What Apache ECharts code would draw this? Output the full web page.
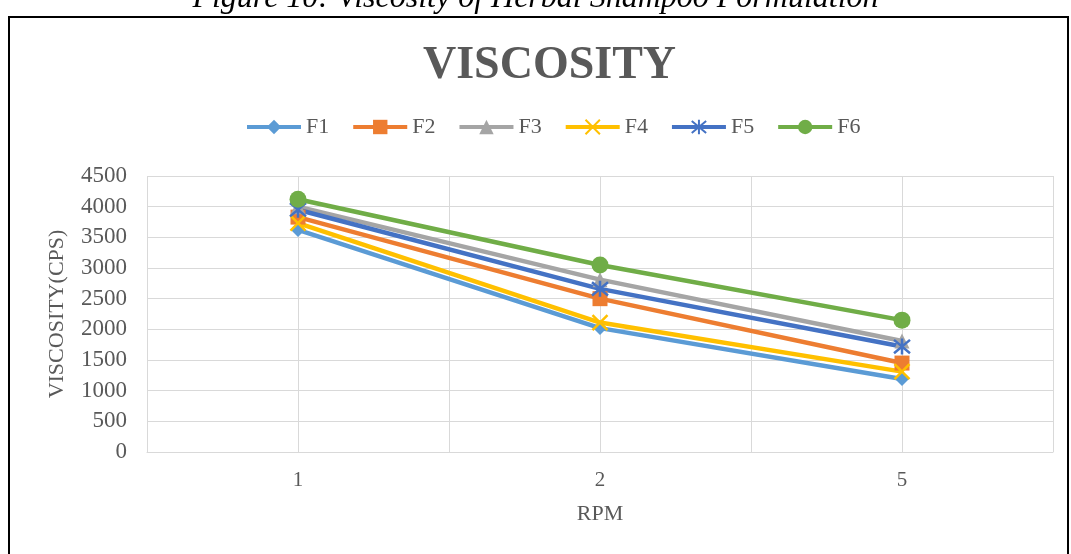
<!DOCTYPE html>
<html>
<head>
<meta charset="utf-8">
<script src="https://cdn.jsdelivr.net/npm/echarts@6/dist/echarts.min.js"></script>
<style>
  html, body { margin: 0; padding: 0; background: #fff; }
  #chart { width: 1071px; height: 554px; }
</style>
</head>
<body>
<div id="chart"></div>
<script>
// Shear rates and measured viscosity (cps) for each shampoo formulation
const rpm = ['1', '2', '5'];
const F1 = [3620, 2020, 1190];
const F2 = [3830, 2500, 1450];
const F3 = [4000, 2810, 1810];
const F4 = [3730, 2110, 1310];
const F5 = [3950, 2660, 1720];
const F6 = [4120, 3050, 2150];
const yTicks = [0, 500, 1000, 1500, 2000, 2500, 3000, 3500, 4000, 4500];

const serif = '"Liberation Serif", "Times New Roman", serif';
const textGray = '#595959';
const gridGray = '#d9d9d9';

const crossPath = 'path://M0,0 L10,10 M10,0 L0,10';
const starPath = 'path://M0,0 L10,10 M10,0 L0,10 M5,-1 L5,11';

const seriesDefs = [
  { name: 'F1', data: F1, color: '#5B9BD5', symbol: 'diamond', size: 14 },
  { name: 'F2', data: F2, color: '#ED7D31', symbol: 'rect', size: 15 },
  { name: 'F3', data: F3, color: '#A5A5A5', symbol: 'triangle', size: 15 },
  { name: 'F4', data: F4, color: '#FFC000', symbol: crossPath, size: 15, stroke: true },
  { name: 'F5', data: F5, color: '#4472C4', symbol: starPath, size: 16, stroke: true },
  { name: 'F6', data: F6, color: '#70AD47', symbol: 'circle', size: 17 }
];

const chart = echarts.init(document.getElementById('chart'), null, { renderer: 'canvas' });

chart.setOption({
  backgroundColor: '#ffffff',
  animation: false,
  title: {
    text: 'VISCOSITY',
    left: 418,
    top: 38,
    textStyle: { fontFamily: serif, fontSize: 46, fontWeight: 'bold', color: textGray }
  },
  legend: {
    top: 111,
    left: 240,
    itemWidth: 54,
    itemHeight: 18,
    itemGap: 22,
    lineStyle: { width: 4 },
    textStyle: { fontFamily: serif, fontSize: 22, color: textGray },
    data: seriesDefs.map(s => s.name)
  },
  graphic: [
    {
      type: 'text',
      left: 'center',
      top: -17,
      style: {
        text: 'Figure 10: Viscosity of Herbal Shampoo Formulation',
        font: 'italic 32px ' + serif,
        fill: '#000'
      }
    },
    {
      type: 'rect',
      shape: { x: 9, y: 17, width: 1059, height: 560 },
      style: { fill: 'none', stroke: '#000', lineWidth: 2 }
    }
  ],
  grid: { left: 147, right: 18, top: 176, bottom: 102 },
  xAxis: [
    {
      type: 'category',
      data: rpm,
      boundaryGap: true,
      name: 'RPM',
      nameLocation: 'middle',
      nameGap: 51,
      nameTextStyle: { fontFamily: serif, fontSize: 22, color: textGray },
      axisLine: { show: true, lineStyle: { color: gridGray, width: 1 } },
      axisTick: { show: false },
      axisLabel: { margin: 18, fontFamily: serif, fontSize: 21, color: textGray },
      splitLine: { show: false }
    },
    {
      // Helper axis: vertical gridlines at category centres and boundaries
      type: 'value',
      position: 'bottom',
      min: 0,
      max: 3,
      interval: 0.5,
      axisLine: { show: false },
      axisTick: { show: false },
      axisLabel: { show: false },
      splitLine: { show: true, lineStyle: { color: gridGray, width: 1 } }
    }
  ],
  yAxis: {
    type: 'value',
    min: yTicks[0],
    max: yTicks[yTicks.length - 1],
    interval: 500,
    name: 'VISCOSITY(CPS)',
    nameLocation: 'middle',
    nameGap: 79,
    nameTextStyle: { fontFamily: serif, fontSize: 22, color: textGray },
    axisLine: { show: false },
    axisTick: { show: false },
    axisLabel: {
      margin: 20,
      fontFamily: serif,
      fontSize: 23,
      color: textGray,
      formatter: v => String(v)
    },
    splitLine: { show: true, lineStyle: { color: gridGray, width: 1 } }
  },
  series: seriesDefs.map(s => ({
    name: s.name,
    type: 'line',
    xAxisIndex: 0,
    data: s.data,
    symbol: s.symbol,
    symbolSize: s.size,
    showAllSymbol: true,
    lineStyle: { color: s.color, width: 4.5 },
    itemStyle: s.stroke
      ? { color: s.color, borderColor: s.color, borderWidth: 2.5 }
      : { color: s.color, borderWidth: 0 },
    emphasis: { disabled: true }
  }))
});
</script>
</body>
</html>
